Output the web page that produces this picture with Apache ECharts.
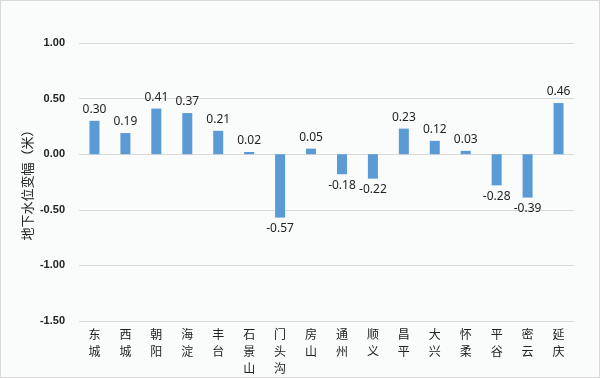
<!DOCTYPE html>
<html><head><meta charset="utf-8">
<script src="https://cdn.jsdelivr.net/npm/echarts@6/dist/echarts.min.js"></script>
<style>html,body{margin:0;padding:0;background:#fff}#c{width:598px;height:376px;border:1px solid #d9d9d9;background:#fafbfb}</style>
</head><body><div id="c"></div>
<script>
var categories = ['东城','西城','朝阳','海淀','丰台','石景山','门头沟','房山','通州','顺义','昌平','大兴','怀柔','平谷','密云','延庆'];
var values = [0.30,0.19,0.41,0.37,0.21,0.02,-0.57,0.05,-0.18,-0.22,0.23,0.12,0.03,-0.28,-0.39,0.46];
var yTicks = [-1.5,-1.0,-0.5,0,0.5,1.0];
var chart = echarts.init(document.getElementById('c'));
chart.setOption({
  backgroundColor: '#fafbfb',
  animation: false,
  grid: {left: 78, right: 25, top: 42, bottom: 56, outerBoundsMode: 'none', containLabel: false},
  xAxis: {
    type: 'category', data: categories, position: 'bottom',
    axisLine: {show: false}, axisTick: {show: false},
    axisLabel: {
      formatter: function(v){ return v.split('').join('\n'); },
      fontFamily: 'Noto Sans CJK SC', fontSize: 12, color: '#222', lineHeight: 17,
      margin: 5
    }
  },
  yAxis: {
    type: 'value', min: -1.5, max: 1.0, interval: 0.5,
    name: '地下水位变幅（米）', nameLocation: 'middle', nameGap: 45, nameRotate: 90,
    nameMoveOverlap: false,
    nameTextStyle: {fontFamily: 'Noto Sans CJK SC', fontSize: 13, color: '#222'},
    axisLine: {show: false}, axisTick: {show: false},
    splitLine: {lineStyle: {color: '#d9d9d9'}},
    axisLabel: {formatter: function(v){ return v.toFixed(2); }, fontFamily: 'Liberation Sans', fontWeight: 'bold', fontSize: 11, color: '#222', margin: 14}
  },
  series: [{
    type: 'bar', data: values.map(function(v){
      return {value: v, label: {position: v >= 0 ? 'top' : 'bottom'}};
    }),
    barWidth: 10, itemStyle: {color: '#5b9bd5'},
    label: {show: true, formatter: function(p){ return p.value.toFixed(2); }, fontFamily: 'Noto Sans', fontSize: 12, color: '#222', distance: 5}
  }]
});
</script></body></html>
